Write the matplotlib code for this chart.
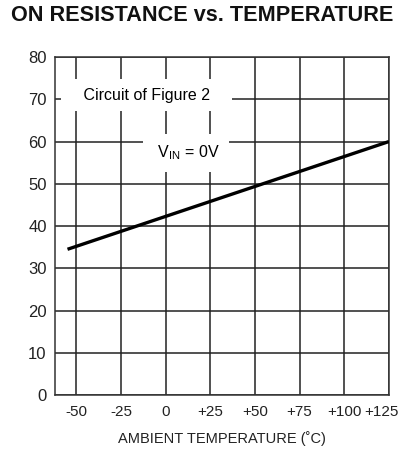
import numpy as np
import matplotlib.pyplot as plt
import matplotlib.transforms as mtransforms

# data
temperature = [-55, 125]
on_resistance = [34.5, 60.0]
x_ticks = [-50, -25, 0, 25, 50, 75, 100, 125]
x_tick_labels = ["-50", "-25", "0", "+25", "+50", "+75", "+100", "+125"]
y_ticks = [0, 10, 20, 30, 40, 50, 60, 70, 80]

narrow = ["Liberation Sans Narrow", "Liberation Sans", "DejaVu Sans"]

fig = plt.figure(figsize=(4.03, 4.53), dpi=100)
ax = fig.add_axes([0.1365, 0.128, 0.8285, 0.746])

ax.plot(temperature, on_resistance, color="black", lw=2.4, zorder=3,
        solid_capstyle="butt")

ax.set_xlim(-62, 125)
ax.set_ylim(0, 80)
ax.set_xticks(x_ticks)
ax.set_xticklabels(x_tick_labels)
ax.set_yticks(y_ticks)
ax.grid(True, color="#222222", lw=1.1)
ax.set_axisbelow(True)
ax.tick_params(length=0, colors="#222222")
ax.tick_params(axis="x", pad=7, labelsize=11)
ax.tick_params(axis="y", pad=6, labelsize=12)
for lab in ax.get_xticklabels() + ax.get_yticklabels():
    lab.set_family(narrow)
# last label sits a bit left so it stays inside the figure
last = ax.get_xticklabels()[-1]
last.set_transform(last.get_transform() +
                   mtransforms.ScaledTranslation(-7 / 100, 0, fig.dpi_scale_trans))
for s in ax.spines.values():
    s.set_color("#333333")
    s.set_linewidth(1.1)

ax.set_xlabel("AMBIENT TEMPERATURE (˚C)", family=narrow, fontsize=10.5,
              color="#222222", labelpad=9)

ax.text(-10.5, 71, "   Circuit of Figure 2   ", family=narrow,
        fontsize=11.5, ha="center", va="center", zorder=4,
        bbox=dict(boxstyle="square,pad=0.55", fc="white", ec="none"))
ax.text(11.5, 57.3, r" V$_{\mathregular{IN}}$ = 0V ", family=narrow,
        fontsize=11.5, ha="center", va="center", zorder=4,
        bbox=dict(boxstyle="square,pad=0.6", fc="white", ec="none"))

fig.text(0.028, 0.966, "ON RESISTANCE vs. TEMPERATURE", family="Liberation Sans",
         fontweight="bold", fontsize=15.6, ha="left", va="center",
         color="#111111")

fig.savefig("out.png", dpi=100)
